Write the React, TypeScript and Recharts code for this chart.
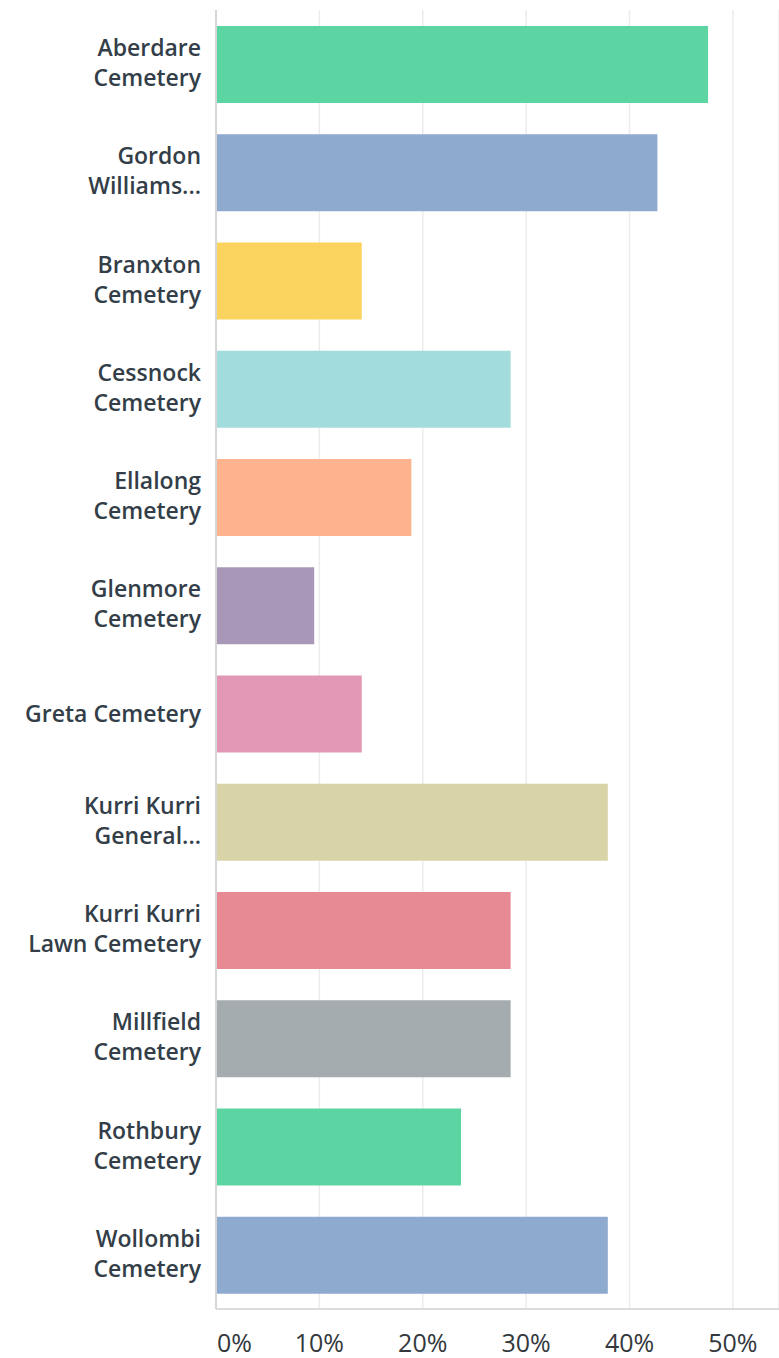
import React from "react";
import { BarChart, Bar, XAxis, YAxis, CartesianGrid, Cell } from "recharts";

const categories = [
  "Aberdare\nCemetery",
  "Gordon\nWilliams...",
  "Branxton\nCemetery",
  "Cessnock\nCemetery",
  "Ellalong\nCemetery",
  "Glenmore\nCemetery",
  "Greta Cemetery",
  "Kurri Kurri\nGeneral...",
  "Kurri Kurri\nLawn Cemetery",
  "Millfield\nCemetery",
  "Rothbury\nCemetery",
  "Wollombi\nCemetery",
];

const percentages = [47.6, 42.7, 14.1, 28.5, 18.9, 9.5, 14.1, 37.9, 28.5, 28.5, 23.7, 37.9];

const barColors = [
  "#5dd5a3",
  "#8eaacf",
  "#fad45f",
  "#a2dcdd",
  "#fdb48e",
  "#a997b8",
  "#e298b4",
  "#d9d3a8",
  "#e78a94",
  "#a5acaf",
  "#5dd5a3",
  "#8eaacf",
];

const xTicks = [0, 10, 20, 30, 40, 50];

const data = categories.map((name, i) => ({ name, value: percentages[i] }));

const FONT = "'Open Sans', 'Noto Sans', sans-serif";

const YTick = (props: any) => {
  const { x, y, payload } = props;
  const lines: string[] = String(payload.value).split("\n");
  const startDy = lines.length === 1 ? 8 : -8;
  return (
    <g>
      {lines.map((line, i) => (
        <text
          key={i}
          x={x - 15}
          y={y + startDy + i * 30}
          textAnchor="end"
          fill="#333e48"
          fontSize={23}
          fontWeight={600}
          fontFamily={FONT}
        >
          {line}
        </text>
      ))}
    </g>
  );
};

const XTick = (props: any) => {
  const { x, y, payload } = props;
  const isZero = payload.value === 0;
  return (
    <text
      x={isZero ? x + 1 : x}
      y={y + 43}
      textAnchor={isZero ? "start" : "middle"}
      fill="#33383d"
      fontSize={25}
      fontWeight={400}
      fontFamily={FONT}
    >
      {`${payload.value}%`}
    </text>
  );
};

export default function App() {
  return (
    <div style={{ position: "absolute", left: 0, top: 0, width: 779, height: 1358, background: "#ffffff" }}>
      <BarChart
        width={779}
        height={1358}
        data={data}
        layout="vertical"
        margin={{ top: 10, right: 0, bottom: 0, left: 0 }}
        barSize={77}
      >
        <CartesianGrid horizontal={false} stroke="#ececec" strokeWidth={1.5} />
        <XAxis
          type="number"
          domain={[0, 54.46]}
          ticks={xTicks}
          allowDataOverflow
          height={49}
          tickLine={false}
          tickSize={0}
          tickMargin={0}
          axisLine={{ stroke: "#dcdcdc", strokeWidth: 2 }}
          tick={<XTick />}
          interval={0}
        />
        <YAxis
          type="category"
          dataKey="name"
          width={216}
          tickLine={false}
          tickSize={0}
          tickMargin={0}
          axisLine={{ stroke: "#d6d6d6", strokeWidth: 2 }}
          tick={<YTick />}
          interval={0}
        />
        <Bar dataKey="value" isAnimationActive={false}>
          {data.map((_, i) => (
            <Cell key={i} fill={barColors[i]} />
          ))}
        </Bar>
      </BarChart>
    </div>
  );
}
